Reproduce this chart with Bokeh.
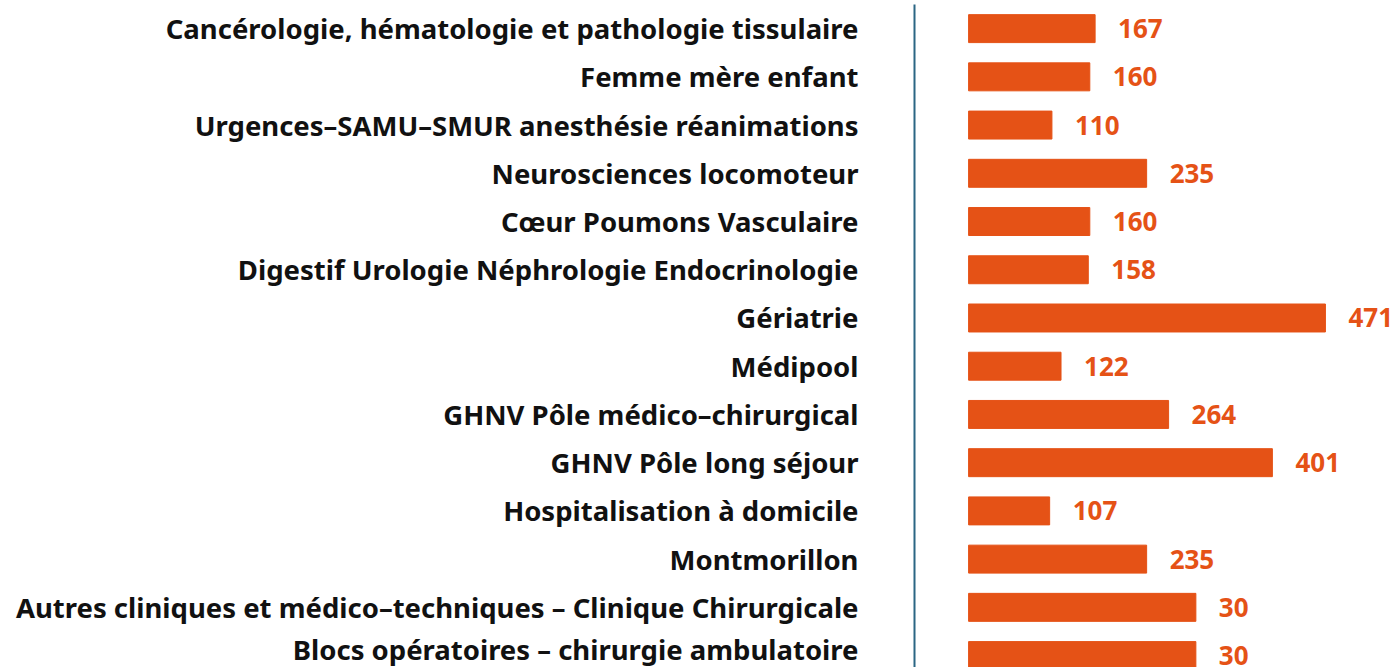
from bokeh.plotting import figure
from bokeh.models import ColumnDataSource, Range1d, FixedTicker
from bokeh.core.properties import value
from bokeh.embed import file_html
from bokeh.resources import INLINE

categories = [
    "Cancérologie, hématologie et pathologie tissulaire",
    "Femme mère enfant",
    "Urgences–SAMU–SMUR anesthésie réanimations",
    "Neurosciences locomoteur",
    "Cœur Poumons Vasculaire",
    "Digestif Urologie Néphrologie Endocrinologie",
    "Gériatrie",
    "Médipool",
    "GHNV Pôle médico–chirurgical",
    "GHNV Pôle long séjour",
    "Hospitalisation à domicile",
    "Montmorillon",
    "Autres cliniques et médico–techniques – Clinique Chirurgicale",
    "Blocs opératoires – chirurgie ambulatoire",
]
bar_values = [167, 160, 110, 235, 160, 158, 471, 122, 264, 401, 107, 235, 300, 300]
value_labels = ["167", "160", "110", "235", "160", "158", "471", "122", "264", "401", "107", "235", "30", "30"]

FONT = "Noto Sans"
ORANGE = "#E55216"
AXIS = "#2B6684"

rows = list(range(len(categories)))
src = ColumnDataSource(dict(y=rows, v=bar_values, lab=value_labels))

p = figure(
    width=1395, height=667,
    x_range=Range1d(-71.4, 563.5),
    y_range=Range1d(13.247, -0.5),
    output_backend="svg", toolbar_location=None,
    min_border_left=914, min_border_right=0, min_border_top=4, min_border_bottom=0,
)
p.outline_line_color = None
p.xaxis.visible = False
p.xgrid.visible = False
p.ygrid.visible = False

p.hbar(y="y", right="v", left=0, height=0.58, source=src, color=ORANGE)
p.text(x="v", y="y", text="lab", source=src, x_offset=23,
       text_align="left", text_baseline="middle",
       text_font=value(FONT), text_font_size="26px", text_font_style="bold",
       text_color=ORANGE)

ax = p.yaxis[0]
ax.ticker = FixedTicker(ticks=rows)
ax.major_label_overrides = {i: c for i, c in enumerate(categories)}
ax.major_tick_line_color = None
ax.minor_tick_line_color = None
ax.axis_line_color = AXIS
ax.axis_line_width = 2
ax.major_label_standoff = 50
ax.major_label_text_font = FONT
ax.major_label_text_font_size = "27.5px"
ax.major_label_text_font_style = "bold"
ax.major_label_text_color = "#111111"

open("out.html", "w").write(file_html(p, INLINE))
